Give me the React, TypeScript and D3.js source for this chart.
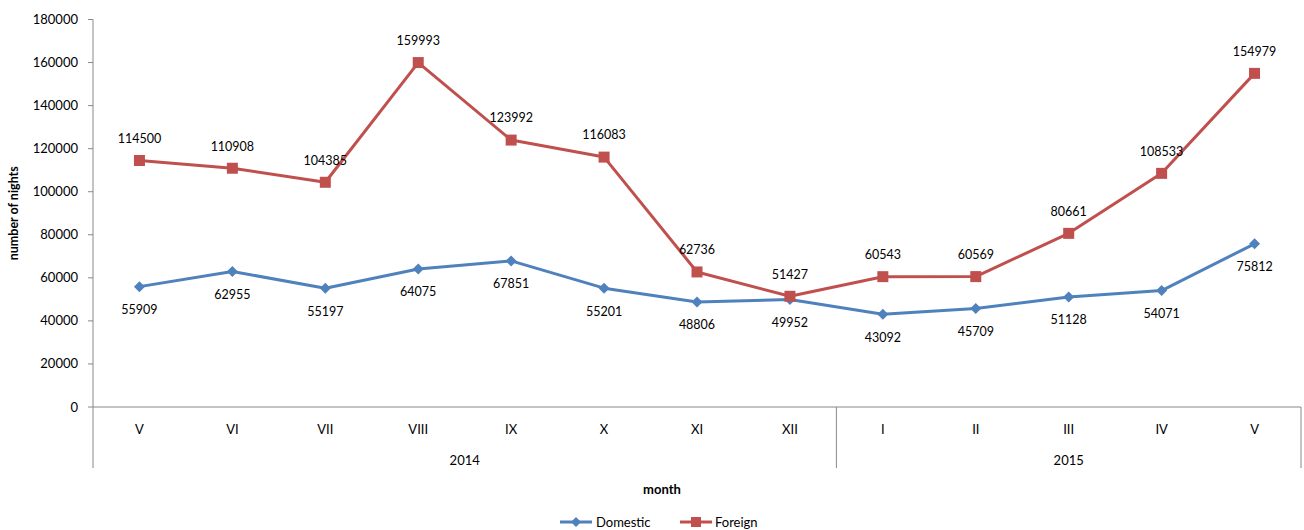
import React from 'react';
import * as d3 from 'd3';

const months = ['V', 'VI', 'VII', 'VIII', 'IX', 'X', 'XI', 'XII', 'I', 'II', 'III', 'IV', 'V'];
const years = [
    { label: '2014', start: 0, end: 8 },
    { label: '2015', start: 8, end: 13 },
];
const domestic = [55909, 62955, 55197, 64075, 67851, 55201, 48806, 49952, 43092, 45709, 51128, 54071, 75812];
const foreign = [114500, 110908, 104385, 159993, 123992, 116083, 62736, 51427, 60543, 60569, 80661, 108533, 154979];
const yTicks = [0, 20000, 40000, 60000, 80000, 100000, 120000, 140000, 160000, 180000];

const W = 1304;
const H = 530;
const left = 93;
const right = 1301;
const top = 19.5;
const bottom = 407;
const font = 'Lato, "Open Sans", sans-serif';

const blue = '#4F81BD';
const red = '#C0504D';

export default function App() {
    const x = d3.scaleBand<number>()
        .domain(d3.range(months.length))
        .range([left, right]);
    const y = d3.scaleLinear().domain([0, 180000]).range([bottom, top]);
    const cx = (i: number) => (x(i) ?? 0) + x.bandwidth() / 2;

    const line = d3.line<number>()
        .x((_, i) => cx(i))
        .y(d => y(d));

    const diamond = (px: number, py: number, r = 5.5) =>
        `M${px},${py - r}L${px + r},${py}L${px},${py + r}L${px - r},${py}Z`;

    return (
        <svg width={W} height={H} style={{ position: 'absolute', left: 0, top: 0, fontFamily: font }}>
            <rect width={W} height={H} fill="#fff" />

            {/* y axis */}
            <line x1={left} x2={left} y1={top} y2={468} stroke="#888" />
            {yTicks.map(t => (
                <g key={t}>
                    <line x1={left - 5} x2={left} y1={y(t)} y2={y(t)} stroke="#888" />
                    <text x={left - 15} y={y(t)} dy="0.35em" textAnchor="end" fontSize={13} fill="#000">{t}</text>
                </g>
            ))}
            <text transform={`translate(18,${(top + bottom) / 2}) rotate(-90)`} textAnchor="middle"
                fontSize={12.5} fontWeight="bold">number of nights</text>

            {/* category axis */}
            <line x1={left} x2={right} y1={bottom} y2={bottom} stroke="#888" />
            {years.map(yr => (
                <g key={yr.label + 'sep'}>
                    <line x1={x(yr.end - 1)! + x.bandwidth()} x2={x(yr.end - 1)! + x.bandwidth()} y1={bottom} y2={468} stroke="#888" />
                    <text x={(x(yr.start)! + x(yr.end - 1)! + x.bandwidth()) / 2} y={460} dy="0.35em"
                        textAnchor="middle" fontSize={13}>{yr.label}</text>
                </g>
            ))}
            {months.map((m, i) => (
                <text key={i} x={cx(i)} y={429} dy="0.35em" textAnchor="middle" fontSize={13}>{m}</text>
            ))}
            <text x={662} y={489} dy="0.35em" textAnchor="middle" fontSize={13} fontWeight="bold">month</text>

            {/* series */}
            <path d={line(domestic) ?? ''} fill="none" stroke={blue} strokeWidth={3} strokeLinejoin="round" />
            <path d={line(foreign) ?? ''} fill="none" stroke={red} strokeWidth={3} strokeLinejoin="round" />
            {domestic.map((v, i) => (
                <g key={'d' + i}>
                    <path d={diamond(cx(i), y(v))} fill={blue} />
                    <text x={cx(i)} y={y(v) + 23} dy="0.35em" textAnchor="middle" fontSize={12.5}>{v}</text>
                </g>
            ))}
            {foreign.map((v, i) => (
                <g key={'f' + i}>
                    <rect x={cx(i) - 5.5} y={y(v) - 5.5} width={11} height={11} fill={red} />
                    <text x={cx(i)} y={y(v) - 22} dy="0.35em" textAnchor="middle" fontSize={12.5}>{v}</text>
                </g>
            ))}

            {/* legend */}
            <line x1={560} x2={592} y1={522} y2={522} stroke={blue} strokeWidth={3} />
            <path d={diamond(576, 522, 5)} fill={blue} />
            <text x={596} y={522} dy="0.35em" fontSize={13}>Domestic</text>
            <line x1={680} x2={712} y1={522} y2={522} stroke={red} strokeWidth={3} />
            <rect x={691} y={517} width={10} height={10} fill={red} />
            <text x={715} y={522} dy="0.35em" fontSize={13}>Foreign</text>
        </svg>
    );
}
